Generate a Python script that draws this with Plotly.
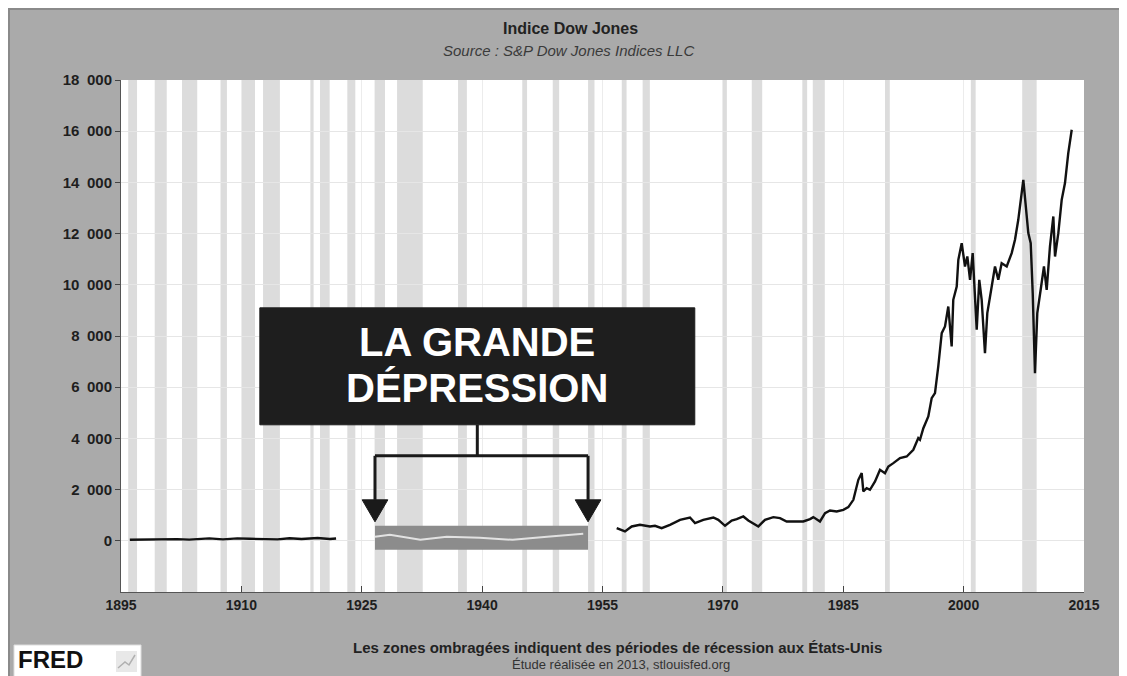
import plotly.graph_objects as go

# --- data -------------------------------------------------------------------
years_early = [1896.1, 1897.0, 1899.0, 1900.5, 1902.0, 1903.5, 1906.0, 1907.7,
               1909.5, 1911.0, 1914.5, 1916.0, 1917.5, 1919.5, 1921.0, 1921.8]
dow_early = [40, 45, 70, 55, 65, 45, 95, 55, 95, 80, 55, 100, 70, 110, 70, 90]

years_modern = [1956.77, 1957.80, 1958.64, 1959.67, 1960.92, 1961.54, 1962.37, 1963.41,
                1964.66, 1965.49, 1965.90, 1966.53, 1967.56, 1968.81, 1969.43, 1970.27,
                1971.10, 1971.72, 1972.55, 1973.17, 1974.42, 1975.25, 1976.29, 1977.12,
                1977.95, 1979.20, 1980.02, 1980.86, 1981.27, 1982.10, 1982.73, 1983.35,
                1984.18, 1985.01, 1985.63, 1986.26, 1986.88, 1987.30, 1987.50, 1987.92,
                1988.33, 1988.96, 1989.58, 1990.20, 1990.62, 1991.24, 1992.07, 1992.91,
                1993.73, 1994.35, 1994.56, 1994.98, 1995.60, 1996.02, 1996.43, 1996.84,
                1997.27, 1997.68, 1998.09, 1998.51, 1998.71, 1999.14, 1999.34, 1999.76,
                2000.17, 2000.46, 2000.80, 2001.13, 2001.42, 2001.63, 2001.95, 2002.25,
                2002.66, 2002.95, 2003.50, 2003.91, 2004.32, 2004.74, 2005.37, 2005.99,
                2006.40, 2006.81, 2007.44, 2007.77, 2008.06, 2008.36, 2008.61, 2008.89,
                2009.18, 2009.60, 2010.01, 2010.35, 2010.76, 2011.18, 2011.39, 2011.80,
                2012.22, 2012.63, 2013.04, 2013.47]
dow_modern = [495, 365, 560, 625, 560, 586, 495, 625,
              820, 885, 911, 690, 820, 911, 820, 586,
              794, 846, 950, 794, 560, 820, 925, 885,
              755, 755, 755, 846, 925, 755, 1080, 1185,
              1145, 1210, 1315, 1600, 2383, 2643, 1927, 2057,
              1992, 2318, 2773, 2643, 2904, 3034, 3229, 3294,
              3555, 4010, 3945, 4400, 4857, 5573, 5768, 6810,
              8112, 8372, 9150, 7590, 9414, 9935, 10977, 11628,
              10716, 11107, 10195, 11237, 9414, 8242, 10195, 9414,
              7331, 8893, 9935, 10716, 10195, 10846, 10716, 11237,
              11758, 12539, 14102, 12930, 12018, 11628, 9675, 6550,
              8893, 9805, 10716, 9805, 11497, 12669, 11107, 12018,
              13320, 13973, 15145, 16055]

# faded line inside the grey "depression" band
years_depression = [1926.65, 1928.5, 1932.3, 1935.6, 1939.7, 1943.8, 1948.1, 1952.6]
dow_depression = [156, 234, 39, 156, 117, 39, 156, 273]

# shaded recession periods (start, end)
rec_start = [1895.9, 1899.2, 1902.6, 1907.4, 1910.0, 1912.7, 1918.6, 1919.8, 1923.2,
             1926.6, 1929.4, 1937.0, 1945.0, 1948.8, 1953.2, 1957.4, 1960.0, 1969.9,
             1973.6, 1979.9, 1981.2, 1990.2, 2000.9, 2007.3]
rec_end = [1897.0, 1900.7, 1904.5, 1908.2, 1911.7, 1914.8, 1919.0, 1921.0, 1924.2,
           1927.9, 1932.6, 1938.1, 1945.6, 1949.6, 1954.0, 1958.0, 1960.9, 1970.5,
           1974.9, 1980.5, 1982.7, 1990.8, 2001.5, 2009.1]

x_ticks = [1895, 1910, 1925, 1940, 1955, 1970, 1985, 2000, 2015]
y_ticks = [0, 2000, 4000, 6000, 8000, 10000, 12000, 14000, 16000, 18000]
y_ticktext = ['0', '2\u2002000', '4\u2002000', '6\u2002000', '8\u2002000', '10\u2002000',
              '12\u2002000', '14\u2002000', '16\u2002000', '18\u2002000']

# annotation geometry (data units)
band_x0, band_x1 = 1926.65, 1953.2
band_y0, band_y1 = -352, 586
box_x0, box_x1 = 1912.3, 1966.5
box_y0, box_y1 = 4531, 9100
bracket_y = 3320
head_top, head_tip = 1600, 742
head_half = 1.6

# --- layout helpers (screen pixels -> paper); page has an 8px body margin ----
OFF = 8
W, H = 1127 - OFF, 676 - OFF
L, R, T, B = 121, 1084, 80, 592   # plot area in screen pixels


def px(xp):
    return (xp - L) / (R - L)


def py(yp):
    return (B - yp) / (B - T)


BG = '#aaaaaa'
FONT = 'Liberation Sans, Arial, sans-serif'

fig = go.Figure()

fig.add_trace(go.Scatter(x=years_early, y=dow_early, mode='lines',
                         line=dict(color='#111111', width=2.4), showlegend=False))
fig.add_trace(go.Scatter(x=years_modern, y=dow_modern, mode='lines',
                         line=dict(color='#111111', width=2.4), showlegend=False))
fig.add_trace(go.Scatter(x=years_depression, y=dow_depression, mode='lines',
                         line=dict(color='#e2e2e2', width=2), showlegend=False))

shapes = []
# recession bands
for s, e in zip(rec_start, rec_end):
    shapes.append(dict(type='rect', xref='x', yref='paper', x0=s, x1=e, y0=0, y1=1,
                       fillcolor='#dcdcdc', line=dict(width=0), layer='below'))

# grey depression band (under the faded line)
shapes.append(dict(type='rect', xref='x', yref='y', x0=band_x0, x1=band_x1,
                   y0=band_y0, y1=band_y1, fillcolor='#8c8c8c', line=dict(width=0), layer='between'))

# black title box
shapes.append(dict(type='rect', xref='x', yref='y', x0=box_x0, x1=box_x1,
                   y0=box_y0, y1=box_y1, fillcolor='#1e1e1e', line=dict(color='#1e1e1e', width=1),
                   layer='above'))

# bracket arrows
mid = (box_x0 + box_x1) / 2
arrow_line = dict(color='#1a1a1a', width=3)
shapes.append(dict(type='line', xref='x', yref='y', x0=mid, x1=mid, y0=box_y0, y1=bracket_y,
                   line=arrow_line, layer='above'))
shapes.append(dict(type='line', xref='x', yref='y', x0=band_x0, x1=band_x1, y0=bracket_y,
                   y1=bracket_y, line=arrow_line, layer='above'))
for xa in (band_x0, band_x1):
    shapes.append(dict(type='line', xref='x', yref='y', x0=xa, x1=xa, y0=bracket_y, y1=head_top,
                       line=arrow_line, layer='above'))
    shapes.append(dict(type='path', xref='x', yref='y',
                       path=f'M {xa - head_half} {head_top} L {xa + head_half} {head_top} L {xa} {head_tip} Z',
                       fillcolor='#1a1a1a', line=dict(color='#1a1a1a', width=1), layer='above'))

# thin frame border
shapes.append(dict(type='rect', xref='paper', yref='paper', x0=px(OFF + 1), x1=px(1124), y0=py(690),
                   y1=py(OFF + 1), fillcolor='rgba(0,0,0,0)', line=dict(color='#8a8a8a', width=2)))
# FRED logo box with small chart icon
shapes.append(dict(type='rect', xref='paper', yref='paper', x0=px(14), x1=px(141), y0=py(690), y1=py(645),
                   fillcolor='white', line=dict(color='#dddddd', width=1)))
shapes.append(dict(type='rect', xref='paper', yref='paper', x0=px(116), x1=px(137), y0=py(672), y1=py(651),
                   fillcolor='#e8e8e8', line=dict(width=0)))
shapes.append(dict(type='path', xref='paper', yref='paper',
                   path=f'M {px(118)} {py(668)} L {px(125)} {py(662)} L {px(129)} {py(665)} L {px(135)} {py(655)}',
                   line=dict(color='#b0b0b0', width=1.5)))

fig.update_layout(shapes=shapes)

annotations = [
    dict(text='<b>Indice Dow Jones</b>', x=px(570), y=py(28), font=dict(size=16, color='#222222')),
    dict(text='<i>Source : S&P Dow Jones Indices LLC</i>', x=px(568), y=py(50),
         font=dict(size=15, color='#3a3a3a')),
    dict(text='<b>LA GRANDE</b>', x=(mid - 1895) / 120, y=py(342), font=dict(size=40, color='white')),
    dict(text='<b>DÉPRESSION</b>', x=(mid - 1895) / 120, y=py(388), font=dict(size=40, color='white')),
    dict(text='<b>Les zones ombragées indiquent des périodes de récession aux États-Unis</b>',
         x=px(617), y=py(647), font=dict(size=15, color='#222222')),
    dict(text='Étude réalisée en 2013, stlouisfed.org', x=px(621), y=py(664),
         font=dict(size=13, color='#333333')),
    dict(text='<b>FRED</b>', x=px(17), y=py(659), xanchor='left', borderpad=0,
         font=dict(size=24, color='#111111')),
]
for a in annotations:
    a.setdefault('xanchor', 'center')
    a.setdefault('yanchor', 'middle')
    a.update(xref='paper', yref='paper', showarrow=False)
    a['font']['family'] = FONT
fig.update_layout(annotations=annotations)

fig.update_xaxes(range=[1895, 2015], tickvals=x_ticks, ticks='inside', ticklen=6,
                 tickcolor='#444444', showline=True, linecolor='#555555', linewidth=1,
                 showgrid=True, gridcolor='#ececec', gridwidth=1, zeroline=False,
                 tickfont=dict(family=FONT, size=14, color='#1e1e1e', weight='bold'))
fig.update_yaxes(range=[-2000, 18000], tickvals=y_ticks, ticktext=y_ticktext, ticks='outside',
                 ticklen=5, tickcolor='#444444', showline=True, linecolor='#555555', linewidth=1,
                 showgrid=True, gridcolor='#e6e6e6', gridwidth=1, zeroline=False,
                 tickfont=dict(family=FONT, size=15, color='#1e1e1e', weight='bold'))

fig.update_layout(width=W, height=H,
                  margin=dict(l=L - OFF, r=1127 - R, t=T - OFF, b=676 - B),
                  paper_bgcolor=BG, plot_bgcolor='white', showlegend=False,
                  font=dict(family=FONT))

fig.write_html("out.html")
